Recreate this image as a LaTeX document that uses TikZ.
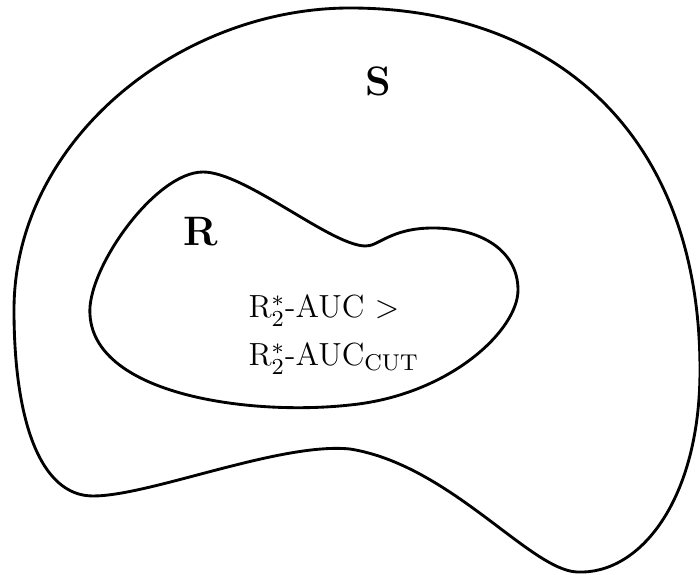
\documentclass[tikz,border=0pt]{standalone}
\usepackage{amsmath}
\usepackage{tikz}
\usetikzlibrary{positioning}
\tikzset{
  blob/.style={line width=1pt, black},
  setname/.style={font=\Large\bfseries, inner sep=0pt},
  crit/.style={font=\fontsize{11.2}{14}\selectfont, inner sep=0pt, anchor=base west}
}

\begin{document}
\begin{tikzpicture}[x=0.35pt, y=-0.35pt]
  \useasboundingbox (0,0) rectangle (700,575);
  %---- Outer set S ----------------------------------------------------------
  \draw[blob] (350,8)
    .. controls (550,8) and (700,130) .. (700,370)
    .. controls (700,500) and (640,575) .. (577,572)
    .. controls (530,570) and (450,465) .. (350,449)
    .. controls (280,442) and (150,496) .. (93,496)
    .. controls (40,496) and (14,420) .. (14,310)
    .. controls (14,140) and (180,8) .. cycle;
  \node[setname] (S) at (378,81) {S};
  %---- Inner region R -------------------------------------------------------
  \draw[blob] (203,172)
    .. controls (245,172) and (330,245) .. (365,246)
    .. controls (378,247) and (390,228) .. (433,228)
    .. controls (480,228) and (518,250) .. (518,290)
    .. controls (518,330) and (450,395) .. (350,405)
    .. controls (250,416) and (95,395) .. (90,315)
    .. controls (86,270) and (155,172) .. cycle;
  \node[setname] (R) at (201,232) {R};
  %---- Criterion ------------------------------------------------------------
  \node[crit] (auc) at (248,318) {R$_2^*$-AUC $>$};
  \node[crit] (cut) at (248,366) {R$_2^*$-AUC$_{\mathrm{CUT}}$};
\end{tikzpicture}
\end{document}
